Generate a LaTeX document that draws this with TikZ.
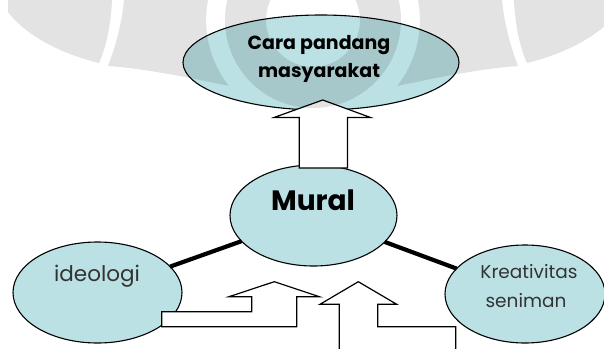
\documentclass[tikz,border=0pt]{standalone}
\usepackage{fontspec}
\setmainfont{Poppins}
\usetikzlibrary{shapes.geometric}
\definecolor{bubblefill}{HTML}{BCE1E4}
\definecolor{txtgray}{HTML}{333333}
\newcommand{\wmwings}{%
  \fill[wm] (8,0) -- (112,0) .. controls (111,25) and (106,48) .. (99,63)
        .. controls (62,54) and (26,36) .. (8,12) -- cycle;
  \fill[wm] (124,0) -- (208,0) arc[start angle=190.8, end angle=142, radius=107]
        .. controls (200,80) and (150,69) .. (108,66)
        .. controls (116,45) and (122,22) .. (124,0) -- cycle;
}
\begin{document}
\begin{tikzpicture}[x=1pt,y=-1pt,
  bubble/.style={ellipse, draw=black, line width=1.1pt, fill=bubblefill, inner sep=0pt, outer sep=0pt},
  conn/.style={line width=4.2pt},
  blockarrow/.style={draw=black, fill=white, line width=1.2pt, line join=miter},
  wm/.style={fill=black, fill opacity=0.11},
  lbl/.style={inner sep=0pt, anchor=base},
  boldlbl/.style={lbl, text=black, font=\bfseries\fontsize{19}{24}\selectfont},
  thinlbl/.style={lbl, text=txtgray, font=\fontsize{18.5}{24}\selectfont}]
\useasboundingbox (0,0) rectangle (604,348);
\clip (0,0) rectangle (604,348);

% bubbles
\node[bubble, minimum width=276pt, minimum height=95pt] (cara) at (321,62.5) {};
\node[bubble, minimum width=167pt, minimum height=101pt] (mural) at (313.5,215.5) {};
\node[bubble, minimum width=169pt, minimum height=101pt] (ideo) at (97.5,292.5) {};
\node[bubble, minimum width=160pt, minimum height=98pt] (kreat) at (525,294) {};

% thick connectors
\draw[conn] (mural) -- (ideo);
\draw[conn] (mural) -- (kreat);

% texts
\node[boldlbl] (cara1) at (319,49) {Cara pandang};
\node[boldlbl] (cara2) at (319,77) {masyarakat};
\node[lbl, font=\bfseries\fontsize{28}{30}\selectfont] (muraltext) at (313,210) {Mural};
\node[thinlbl, font=\fontsize{21.5}{24}\selectfont] (ideotext) at (97,281) {ideologi};
\node[thinlbl] (kreat1) at (529,278) {Kreativitas};
\node[thinlbl] (kreat2) at (526,307) {seniman};

% block arrows
\draw[blockarrow] (299.3,168) -- (299.3,117.5) -- (274,117.5) -- (322.7,100)
  -- (370.5,117.5) -- (347.5,117.5) -- (347.5,168) -- cycle;
\draw[blockarrow] (161.7,326.7) -- (161.7,311.7) -- (251.7,311.7) -- (251.7,296.7)
  -- (229,296.7) -- (274.3,281.7) -- (319.3,296.7) -- (296.7,296.7) -- (296.7,326.7) -- cycle;
\draw[blockarrow] (339.3,360) -- (339.3,304.3) -- (320,304.3) -- (358.3,281.7)
  -- (396.7,304.3) -- (377.7,304.3) -- (377.7,326.7) -- (455.7,326.7) -- (455.7,360) -- cycle;

% watermark
\fill[wm, even odd rule] (313,20) circle[radius=88] (313,20) circle[radius=47];
\wmwings
\begin{scope}[xshift=626pt, xscale=-1]
  \wmwings
\end{scope}
\end{tikzpicture}
\end{document}
